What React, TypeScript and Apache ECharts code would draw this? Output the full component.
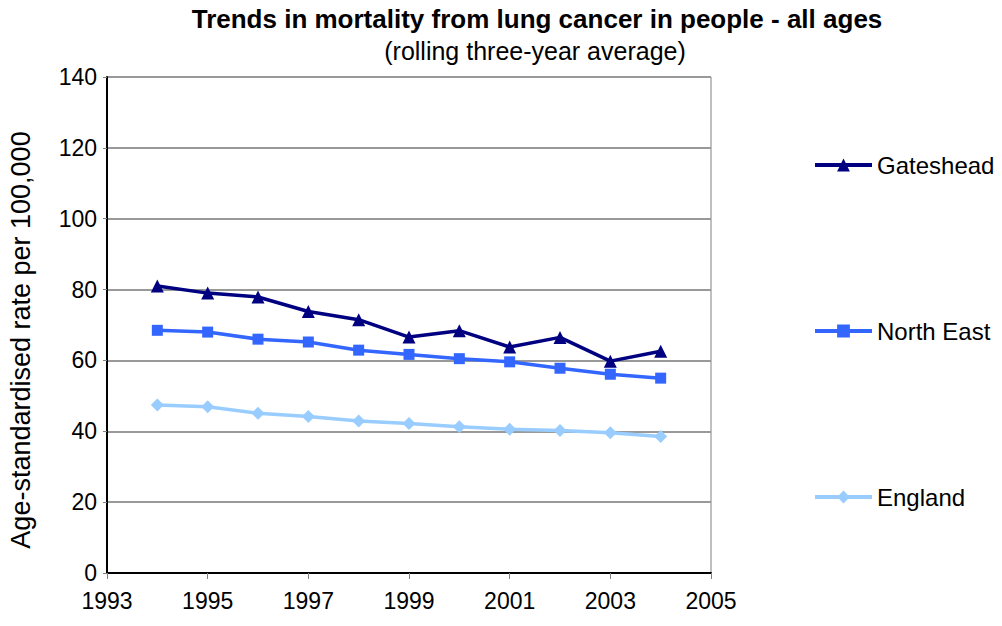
import React, { useEffect, useRef } from "react";
import * as echarts from "echarts";

const years = [1994, 1995, 1996, 1997, 1998, 1999, 2000, 2001, 2002, 2003, 2004];
const gateshead = [81.0, 79.0, 77.9, 73.8, 71.5, 66.6, 68.4, 63.8, 66.5, 59.8, 62.6];
const northEast = [68.5, 68.0, 66.0, 65.2, 62.9, 61.7, 60.5, 59.6, 57.8, 56.1, 55.0];
const england = [47.4, 46.9, 45.1, 44.2, 42.9, 42.2, 41.3, 40.6, 40.2, 39.6, 38.5];

const titleText = "Trends in mortality from lung cancer in people - all ages";
const subtitleText = "(rolling three-year average)";
const yAxisName = "Age-standardised rate per 100,000";

const FONT = "'Liberation Sans', Arial, sans-serif";

export default function App() {
  const ref = useRef<HTMLDivElement>(null);
  useEffect(() => {
    if (!ref.current) return;
    const chart = echarts.init(ref.current, null, { renderer: "svg" });
    const mk = (arr: number[]) => years.map((y, i) => [y, arr[i]]);
    chart.setOption({
      animation: false,
      backgroundColor: "#ffffff",
      textStyle: { fontFamily: FONT },
      title: [
        {
          text: titleText,
          left: 532,
          textAlign: "center",
          top: 1,
          textStyle: { fontFamily: FONT, fontWeight: "bold", fontSize: 26, color: "#000" },
        },
        {
          text: subtitleText,
          left: 530,
          textAlign: "center",
          top: 33,
          textStyle: { fontFamily: FONT, fontWeight: "normal", fontSize: 25, color: "#000" },
        },
      ],
      graphic: [
        {
          type: "text",
          x: 21,
          y: 340,
          rotation: Math.PI / 2,
          style: {
            text: yAxisName,
            fontFamily: FONT,
            fontSize: 27,
            fill: "#000",
            textAlign: "center",
            textVerticalAlign: "middle",
          },
        },
      ],
      grid: {
        left: 107,
        right: 291,
        top: 77,
        bottom: 53,
        show: true,
        borderColor: "#808080",
        borderWidth: 1,
      },
      legend: {
        orient: "vertical",
        left: 808,
        top: 148,
        itemWidth: 57,
        itemHeight: 16,
        itemGap: 142,
        lineStyle: { width: 4 },
        textStyle: { fontFamily: FONT, fontSize: 24, color: "#000" },
        data: ["Gateshead", "North East", "England"],
      },
      xAxis: {
        type: "value",
        min: 1993,
        max: 2005,
        interval: 2,
        axisLine: { show: true, lineStyle: { color: "#000", width: 2 } },
        axisTick: { show: true, inside: false, length: 6, lineStyle: { color: "#808080" } },
        axisLabel: {
          color: "#000",
          fontSize: 23,
          fontFamily: FONT,
          margin: 16,
          formatter: (v: number) => String(v),
        },
        splitLine: { show: false },
      },
      yAxis: {
        type: "value",
        min: 0,
        max: 140,
        interval: 20,
        axisLine: { show: true, lineStyle: { color: "#000", width: 2 } },
        axisTick: { show: true, inside: false, length: 4, lineStyle: { color: "#808080" } },
        axisLabel: { color: "#000", fontSize: 23, fontFamily: FONT, margin: 10 },
        splitLine: { show: true, lineStyle: { color: "#999999", width: 2 } },
      },
      series: [
        {
          name: "Gateshead",
          type: "line",
          data: mk(gateshead),
          symbol: "triangle",
          symbolSize: 13,
          lineStyle: { color: "#000080", width: 3.5 },
          itemStyle: { color: "#000080" },
        },
        {
          name: "North East",
          type: "line",
          data: mk(northEast),
          symbol: "rect",
          symbolSize: 11,
          lineStyle: { color: "#3366FF", width: 3.5 },
          itemStyle: { color: "#3366FF" },
        },
        {
          name: "England",
          type: "line",
          data: mk(england),
          symbol: "diamond",
          symbolSize: 13,
          lineStyle: { color: "#99CCFF", width: 3.5 },
          itemStyle: { color: "#99CCFF" },
        },
      ],
    });
    return () => chart.dispose();
  }, []);
  return <div ref={ref} style={{ width: 1002, height: 626, position: "absolute", left: 0, top: 0 }} />;
}
